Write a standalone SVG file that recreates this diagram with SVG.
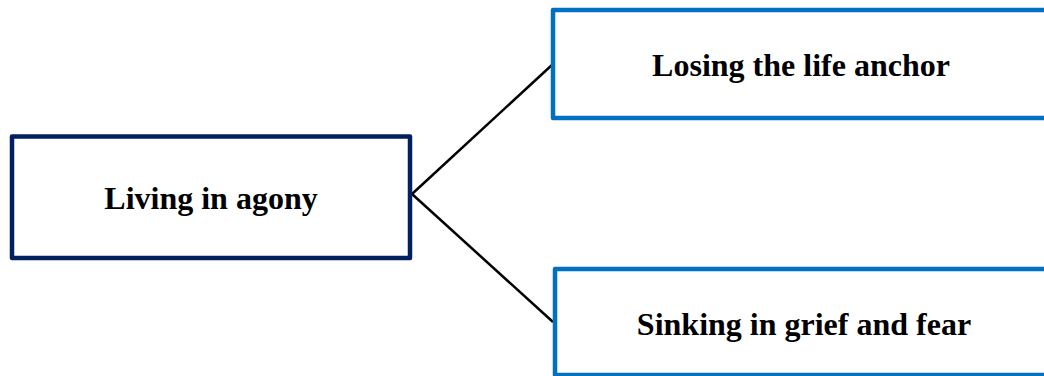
<svg xmlns="http://www.w3.org/2000/svg" width="1044" height="376" viewBox="0 0 1044 376">
  <style>
    .box { fill: #ffffff; stroke-width: 4.5; stroke-linejoin: round; }
    .root { stroke: #002060; }
    .leaf { stroke: #0070C0; }
    .label { font-family: "Liberation Serif", "Times New Roman", serif; font-weight: bold; font-size: 32px; fill: #000000; text-anchor: middle; }
    .link { fill: none; stroke: #000000; stroke-width: 2.5; }
  </style>
  <rect width="1044" height="376" fill="#ffffff"/>

  <g id="connectors">
    <path class="link" d="M412,194 L553,64"/>
    <path class="link" d="M412,194 L553,322"/>
  </g>

  <g id="node-living-in-agony">
    <rect class="box root" x="12" y="136.5" width="398" height="121.5"/>
    <text class="label" x="211" y="209">Living in agony</text>
  </g>

  <g id="node-losing-life-anchor">
    <rect class="box leaf" x="553" y="10" width="496" height="108"/>
    <text class="label" x="801" y="76">Losing the life anchor</text>
  </g>

  <g id="node-sinking-grief-fear">
    <rect class="box leaf" x="555" y="269" width="497" height="106"/>
    <text class="label" x="804" y="335">Sinking in grief and fear</text>
  </g>
</svg>
